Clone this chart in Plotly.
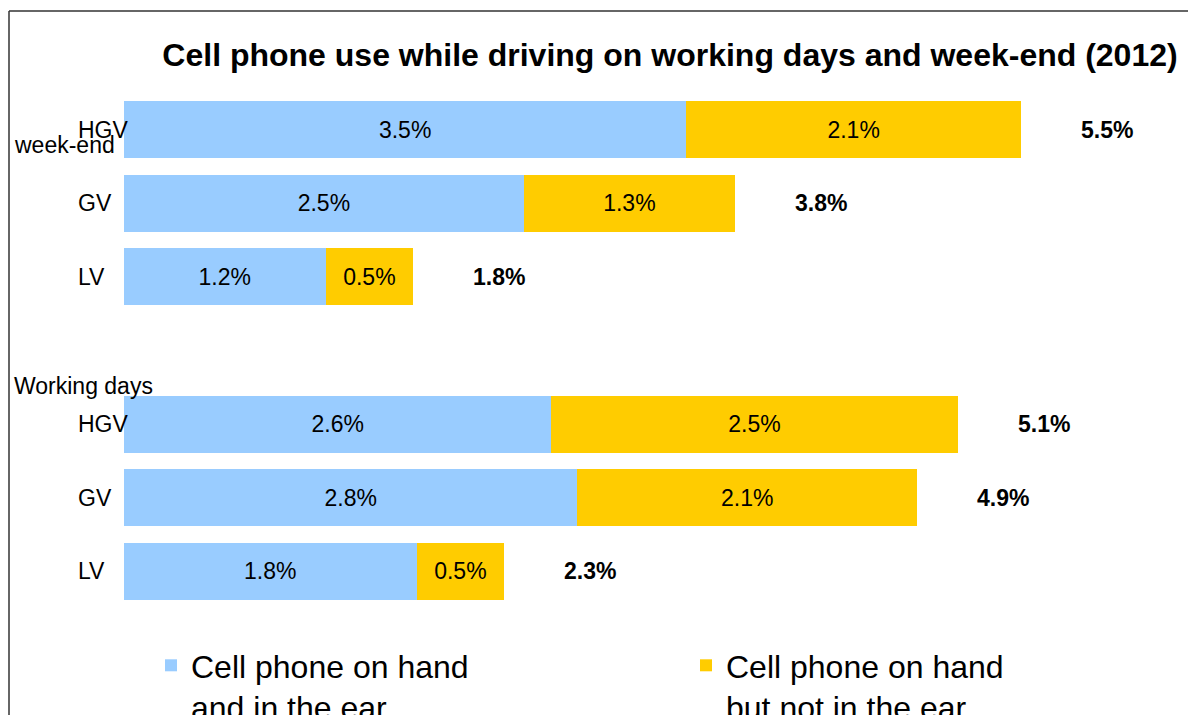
import plotly.graph_objects as go

# ---- data ----
groups = ["week-end", "Working days"]
vehicles = ["HGV", "GV", "LV"]
# values in %, per group, per vehicle (HGV, GV, LV)
hand_in_ear = {"week-end": [3.46, 2.46, 1.24], "Working days": [2.63, 2.79, 1.80]}
hand_not_ear = {"week-end": [2.06, 1.30, 0.54], "Working days": [2.50, 2.09, 0.54]}
series_names = ["Cell phone on hand<br>and in the ear", "Cell phone on hand<br>but not in the ear"]
series_colors = ["#99CCFF", "#FFCC00"]
title_text = "Cell phone use while driving on working days and week-end (2012)"

# ---- layout helpers ----
W, H = 1188, 715
ML, MR, MT, MB = 124, 40, 93, 107
PW, PH = W - ML - MR, H - MT - MB

def px_x(p):
    return (p - ML) / PW

def px_y(p):
    return (H - MB - p) / PH

FONT = "Liberation Sans, Arial"

ypos, ylab, v1, v2 = [], [], [], []
for gi, g in enumerate(groups):
    for ci, v in enumerate(vehicles):
        ypos.append(gi * 4 + ci)
        ylab.append(v)
        v1.append(hand_in_ear[g][ci])
        v2.append(hand_not_ear[g][ci])
totals = [a + b for a, b in zip(v1, v2)]

fig = go.Figure()
for i, (name, vals, col) in enumerate(zip(series_names, [v1, v2], series_colors)):
    fig.add_trace(go.Bar(
        y=ypos, x=vals, orientation="h", name=name,
        legend="legend" if i == 0 else "legend2",
        marker=dict(color=col, line=dict(width=0)),
        texttemplate="%{x:.1f}%", textposition="inside",
        insidetextanchor="middle",
        textfont=dict(family=FONT, size=23, color="#000000"),
        hoverinfo="skip",
    ))

annotations = []
# totals
for y, t in zip(ypos, totals):
    annotations.append(dict(x=t, y=y, xref="x", yref="y", text=f"<b>{t:.1f}%</b>",
                            showarrow=False, xanchor="center", yanchor="middle", xshift=86,
                            font=dict(family=FONT, size=23, color="#000000")))
# category labels (left aligned)
for y, lab in zip(ypos, ylab):
    annotations.append(dict(x=px_x(76), y=y, xref="paper", yref="y", text=lab,
                            showarrow=False, xanchor="left", yanchor="middle",
                            font=dict(family=FONT, size=23, color="#000000")))
# group labels
group_label_px = [145, 386]
for g, py in zip(groups, group_label_px):
    annotations.append(dict(x=px_x(12), y=px_y(py), xref="paper", yref="paper", text=g,
                            showarrow=False, xanchor="left", yanchor="middle",
                            font=dict(family=FONT, size=23, color="#000000")))

shapes = [
    dict(type="line", xref="paper", yref="paper", x0=px_x(9), x1=px_x(W + 5), y0=px_y(11), y1=px_y(11),
         line=dict(color="#333333", width=1.5)),
    dict(type="line", xref="paper", yref="paper", x0=px_x(9), x1=px_x(9), y0=px_y(11), y1=px_y(H + 5),
         line=dict(color="#333333", width=1.5)),
]

legend_common = dict(orientation="v", yanchor="top", xanchor="left", valign="top",
                     font=dict(family=FONT, size=32, color="#000000"),
                     bgcolor="rgba(0,0,0,0)", borderwidth=0)

fig.update_layout(
    width=W, height=H,
    margin=dict(l=ML, r=MR, t=MT, b=MB, autoexpand=False),
    paper_bgcolor="white", plot_bgcolor="white",
    barmode="stack", bargap=0.225,
    title=dict(text=f"<b>{title_text}</b>", x=670 / W, xanchor="center",
               y=1 - 55 / H, yanchor="middle",
               font=dict(family=FONT, size=32, color="#000000")),
    xaxis=dict(range=[0, PW / 162.5], visible=False),
    yaxis=dict(range=[6.5, -0.5], visible=False),
    showlegend=True,
    legend=dict(x=px_x(151), y=px_y(638), **legend_common),
    legend2=dict(x=px_x(686), y=px_y(638), **legend_common),
    annotations=annotations, shapes=shapes,
)

fig.write_html("out.html")
